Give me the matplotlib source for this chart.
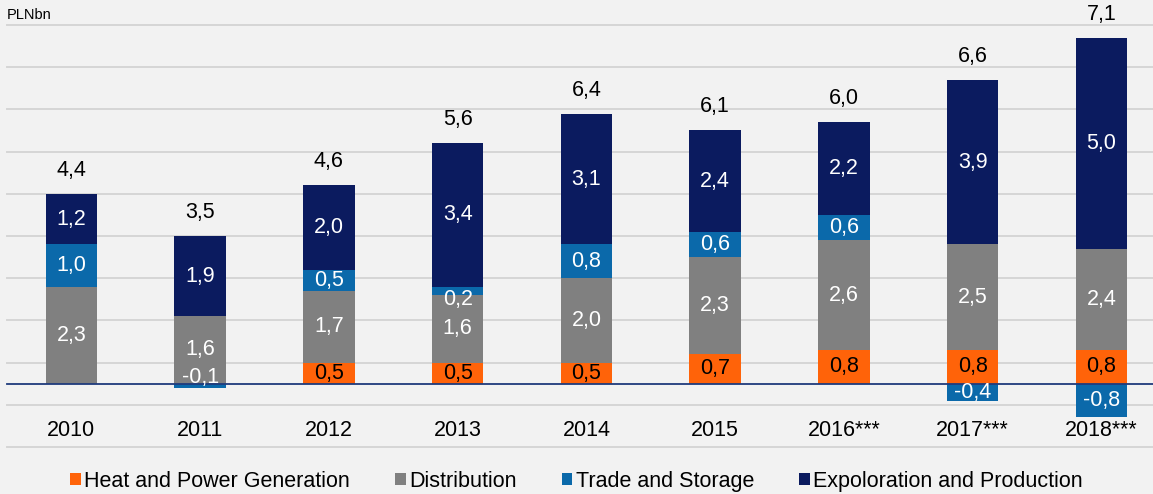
import numpy as np
import matplotlib
matplotlib.use("Agg")
import matplotlib.pyplot as plt
from matplotlib.patches import Patch

# Dane z wykresu (mld PLN)
years = ["2010", "2011", "2012", "2013", "2014", "2015", "2016***", "2017***", "2018***"]
heat = [0.0, 0.0, 0.5, 0.5, 0.5, 0.7, 0.8, 0.8, 0.8]
distribution = [2.3, 1.6, 1.7, 1.6, 2.0, 2.3, 2.6, 2.5, 2.4]
trade = [1.0, -0.1, 0.5, 0.2, 0.8, 0.6, 0.6, -0.4, -0.8]
exploration = [1.2, 1.9, 2.0, 3.4, 3.1, 2.4, 2.2, 3.9, 5.0]
totals = [4.4, 3.5, 4.6, 5.6, 6.4, 6.1, 6.0, 6.6, 7.1]

series_names = ["Heat and Power Generation", "Distribution", "Trade and Storage",
                "Expoloration and Production"]
colors = ["#ff6309", "#808080", "#0b69aa", "#0b1b5f"]
label_colors = ["black", "white", "white", "white"]

BG = "#f2f2f2"
FS = 15.5


def fmt(v):
    return f"{v:.1f}".replace(".", ",")


def main():
    plt.rcParams['font.family'] = ['Liberation Sans', 'DejaVu Sans']

    fig = plt.figure(figsize=(11.53, 4.94), dpi=100, facecolor=BG)
    ax = fig.add_axes([7 / 1153, 1 - 447 / 494, 1 - 7 / 1153, (447 - 25) / 494])
    ax.set_facecolor(BG)

    x = np.arange(len(years))
    width = 0.40

    # linie siatki
    for g in np.arange(-1.5, 9.0, 1.0):
        ax.axhline(g, color="#d6d6d6", lw=1.4, zorder=0, clip_on=False)

    pos_base = np.zeros(len(years))
    neg_base = np.zeros(len(years))
    all_series = [heat, distribution, trade, exploration]

    for vals, name, col, lcol in zip(all_series, series_names, colors, label_colors):
        vals = np.array(vals)
        bottoms = np.where(vals >= 0, pos_base, neg_base)
        ax.bar(x, vals, width, bottom=bottoms, color=col, edgecolor="none",
               label=name, zorder=2)
        for xi, v, b in zip(x, vals, bottoms):
            if v == 0:
                continue
            yc = b + v / 2
            dy = 0
            if abs(v) < 0.3:
                dy = 6 if v < 0 else -6
            ax.annotate(fmt(v), (xi, yc), xytext=(0, dy), textcoords="offset points",
                        ha="center", va="center", fontsize=FS, color=lcol, zorder=4)
        pos_base = pos_base + np.where(vals > 0, vals, 0)
        neg_base = neg_base + np.where(vals < 0, vals, 0)

    # sumy nad slupkami
    for xi, top, t in zip(x, pos_base, totals):
        ax.annotate(fmt(t), (xi, top), xytext=(0, 17), textcoords="offset points",
                    ha="center", va="center", fontsize=FS, color="black")

    # linia zera
    ax.axhline(0, color="#1f3b7c", lw=1.3, zorder=3, clip_on=False)

    # etykiety lat
    for xi, yr in zip(x, years):
        ax.text(xi, -1.1, yr, ha="center", va="center", fontsize=FS, color="black")

    ax.set_xlim(-0.5, 8.4)
    ax.set_ylim(-1.5, 8.5)
    ax.set_xticks([])
    ax.set_yticks([])
    for s in ax.spines.values():
        s.set_visible(False)

    fig.text(7 / 1153, 1 - 15 / 494, "PLNbn", fontsize=10.5, ha="left", va="center")

    handles = [Patch(facecolor=c, edgecolor="none") for c in colors]
    fig.legend(handles, series_names, loc="center", bbox_to_anchor=(0.5, 1 - 481 / 494),
               ncol=4, frameon=False, fontsize=FS, handlelength=0.5, handleheight=0.5,
               handletextpad=0.15, columnspacing=2.1, borderaxespad=0)

    fig.savefig("out.png", dpi=100, facecolor=BG)


if __name__ == "__main__":
    main()
